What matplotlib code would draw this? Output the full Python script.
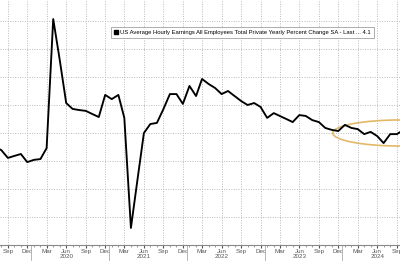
import pandas as pd
import matplotlib
matplotlib.use('Agg')
import matplotlib.pyplot as plt
import matplotlib.dates as mdates
from matplotlib.patches import Ellipse
from matplotlib.lines import Line2D

# monthly YoY % change, Jul 2019 .. Oct 2024
start = '2019-07-01'
values = [3.50, 3.39, 3.11, 3.18, 3.25, 2.96,            # 2019 Jul-Dec
          3.04, 3.07, 3.46, 8.07, 6.64, 5.07, 4.86, 4.82, 4.79, 4.68, 4.57, 5.36,   # 2020
          5.21, 5.36, 4.54, 0.61, 2.29, 4.00, 4.32, 4.36, 4.86, 5.39, 5.39, 5.04,   # 2021
          5.68, 5.32, 5.93, 5.75, 5.61, 5.39, 5.50, 5.32, 5.14, 5.00, 5.07, 4.93,   # 2022
          4.54, 4.71, 4.61, 4.50, 4.39, 4.64, 4.61, 4.46, 4.39, 4.18, 4.11, 4.07,   # 2023
          4.29, 4.18, 4.14, 3.96, 4.04, 3.89, 3.64, 3.96, 3.96, 4.10]               # 2024
dates = pd.date_range(start, periods=len(values), freq='MS')
legend_label = 'US Average Hourly Earnings All Employees Total Private Yearly Percent Change SA - Last ... 4.1'
years = ['2020', '2021', '2022', '2023', '2024']

plt.rcParams['font.family'] = ['Liberation Sans', 'DejaVu Sans']
fig = plt.figure(figsize=(4, 2.61), dpi=100)
ax = fig.add_axes([0, 16/261, 1, 245/261])

ax.plot(dates, values, color='black', lw=1.35)

ax.set_xlim(pd.Timestamp('2019-07-26'), pd.Timestamp('2024-09-16'))
ax.set_ylim(0, 8.75)
ax.set_yticks(range(0, 9))
ax.tick_params(axis='y', left=False, labelleft=False)

ax.xaxis.set_major_locator(mdates.MonthLocator(bymonth=(3, 6, 9, 12)))
ax.xaxis.set_major_formatter(mdates.DateFormatter('%b'))
ax.xaxis.set_minor_locator(mdates.MonthLocator())
ax.tick_params(axis='x', labelsize=4.5, colors='#555555', length=2, pad=1.0)
ax.tick_params(axis='x', which='minor', length=1.2, color='#888888')

ax.grid(True, which='major', color='#bbbbbb', ls=(0, (1, 1.5)), lw=0.7)
for s in ['top', 'right', 'left']:
    ax.spines[s].set_visible(False)
ax.spines['bottom'].set_color('#888888')
ax.spines['bottom'].set_linewidth(0.8)

for y in years:
    ax.text(pd.Timestamp(y + '-06-01'), -0.33, y, ha='center', va='top',
            fontsize=4.5, color='#555555', clip_on=False)
    ax.axvline(pd.Timestamp(str(int(y) - 1) + '-12-20'), ymin=-0.06, ymax=0,
               color='#aaaaaa', lw=0.6, clip_on=False)

ell = Ellipse((mdates.date2num(pd.Timestamp('2024-09-15')), 4.0), width=630, height=0.93,
              fill=False, edgecolor='#e3b866', lw=1.2)
ax.add_patch(ell)

h = Line2D([], [], color='black', marker='s', ls='none', markersize=3.3)
leg = ax.legend([h], [legend_label], loc='upper left',
                bbox_to_anchor=(111/400, 1 - 27/261), bbox_transform=fig.transFigure,
                fontsize=4.2, frameon=True, fancybox=False, handlelength=0.8,
                handletextpad=0.3, borderpad=0.5, borderaxespad=0)
leg.get_frame().set_edgecolor('#888888')
leg.get_frame().set_linewidth(0.6)

fig.savefig('out.png', dpi=100)
